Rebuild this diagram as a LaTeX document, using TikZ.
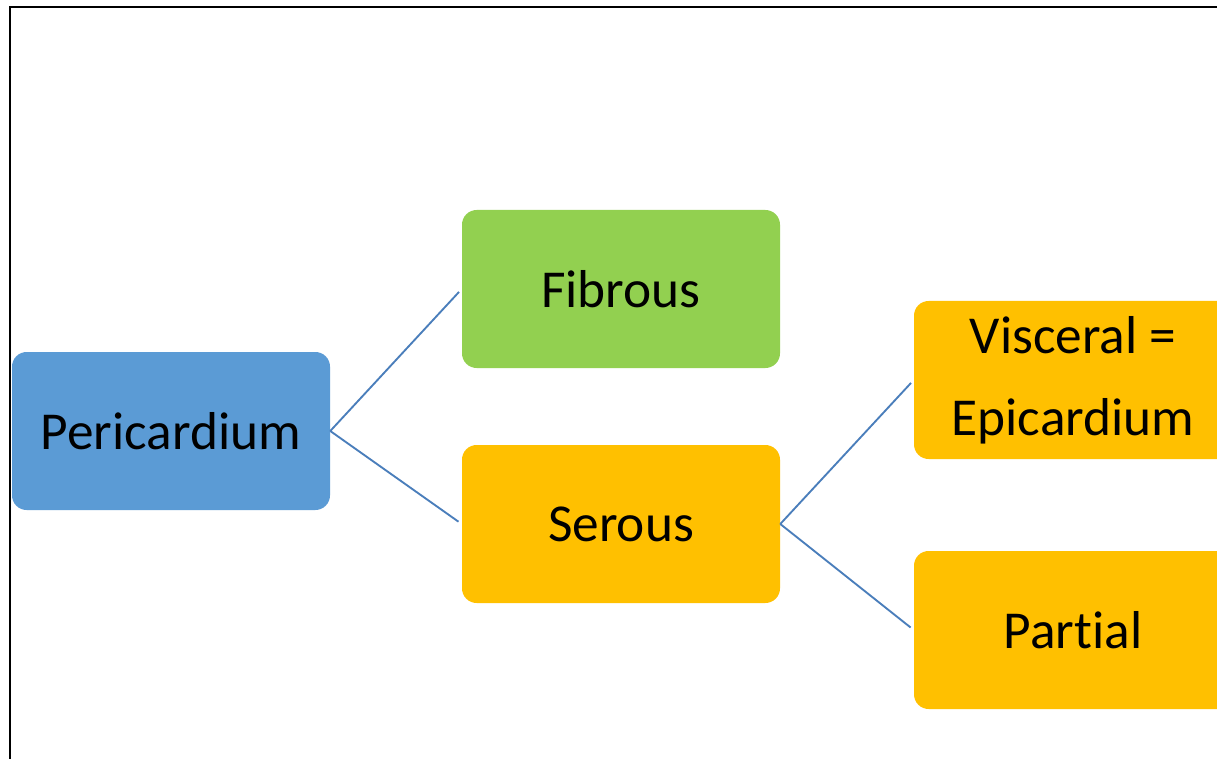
\documentclass[tikz,border=0pt]{standalone}
\usepackage{fontspec}
\setmainfont{Carlito}[Ligatures=NoCommon]
\usetikzlibrary{positioning}
\definecolor{periblue}{HTML}{5B9BD5}
\definecolor{fibgreen}{HTML}{92D050}
\definecolor{serorange}{HTML}{FFC000}
\definecolor{linkblue}{HTML}{4A7EBB}

\begin{document}
\begin{tikzpicture}[x=0.75pt, y=-0.75pt,
    box/.style={rounded corners=11pt, minimum width=238.5pt, minimum height=118.5pt,
        inner sep=0pt, align=center, font=\fontsize{40}{61.5}\selectfont},
    link/.style={draw=linkblue, line width=1.4pt, shorten >=3pt}]
    % Page cut at the right and bottom
    \clip (0,0) rectangle (1217,759);
    \fill[white] (0,0) rectangle (1217,759);
    \draw[line width=1.6pt] (10,759) -- (10,7) -- (1217,7);

    % Boxes
    \node[box, fill=periblue] (peri) at (171,431) {Pericardium};
    \node[box, fill=fibgreen] (fib) at (621,289) {Fibrous};
    \node[box, fill=serorange] (ser) at (621,524) {Serous};
    \node[box, fill=serorange] (visc) at (1073,380) {Visceral =\\Epicardium};
    \node[box, fill=serorange] (part) at (1073,630) {Partial};

    % Links
    \draw[link] (peri.east) -- (fib.west);
    \draw[link] (peri.east) -- (ser.west);
    \draw[link] (ser.east) -- (visc.west);
    \draw[link] (ser.east) -- (part.west);
\end{tikzpicture}
\end{document}
